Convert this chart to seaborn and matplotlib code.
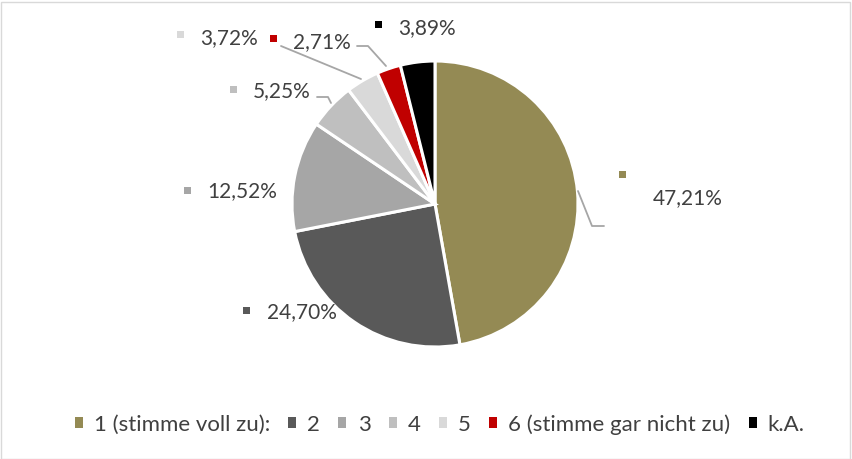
import matplotlib
matplotlib.use("Agg")
import matplotlib.pyplot as plt
import seaborn as sns
from matplotlib.patches import Patch, Rectangle

# --------------------------
# Data
# --------------------------

categories = ["1 (stimme voll zu):", "2", "3", "4", "5", "6 (stimme gar nicht zu)", "k.A."]
shares = [47.21, 24.70, 12.52, 5.25, 3.72, 2.71, 3.89]
colors = ["#948A54", "#595959", "#A6A6A6", "#BFBFBF", "#D9D9D9", "#C00000", "#000000"]

# label anchor (marker square) in pixels of the 852x460 canvas
label_px = [(622, 175), (246, 311), (187, 191), (233, 90), (180, 35), (273, 39), (378, 25)]
text_dx = [31, 21, 20, 20, 20, 20, 20]
text_dy = [23, 1, 0, 1, 3, 3, 3]

sns.set_theme(style="white")
plt.rcParams["font.family"] = ["Lato", "DejaVu Sans"]

W, H = 852, 460
CX, CY, R = 435, 205, 143

fig = plt.figure(figsize=(W / 100, H / 100), dpi=100)
ax = fig.add_axes([0, 0, 1, 1])


def px(x, y):
    return (x - CX) / R, (CY - y) / R


ax.pie(
    shares,
    colors=colors,
    startangle=90,
    counterclock=False,
    radius=1.0,
    wedgeprops=dict(edgecolor="white", linewidth=2.2),
)
ax.set_aspect("auto")
ax.set_xlim(-CX / R, (W - CX) / R)
ax.set_ylim((CY - H) / R, CY / R)
ax.axis("off")

# --------------------------
# Data labels
# --------------------------

txt_col = "#404040"
sq = 7 / R
for i, v in enumerate(shares):
    mx, my = px(*label_px[i])
    ax.add_patch(Rectangle((mx - sq / 2, my - sq / 2), sq, sq, color=colors[i], lw=0))
    tx, ty = px(label_px[i][0] + text_dx[i], label_px[i][1] + text_dy[i])
    ax.text(tx, ty, f"{v:.2f}".replace(".", ",") + "%", fontsize=15,
            color=txt_col, ha="left", va="center")

# leader lines
lead_col = "#A6A6A6"
leaders = [
    [(578, 192), (592, 227), (604, 227)],
    [(317, 98), (328, 98), (331, 104)],
    [(281, 47), (361, 80)],
    [(357, 47), (368, 47), (386, 67)],
]
for pts in leaders:
    xs, ys = zip(*[px(x, y) for x, y in pts])
    ax.plot(xs, ys, color=lead_col, lw=1.3)

# --------------------------
# Legend
# --------------------------

handles = [Patch(facecolor=c, edgecolor="none") for c in colors]
fig.legend(
    handles,
    categories,
    loc="center",
    bbox_to_anchor=(0.516, 1 - 425 / H),
    ncol=7,
    frameon=False,
    handlelength=0.36,
    handleheight=0.36,
    handletextpad=0.5,
    columnspacing=0.82,
    prop={"size": 16},
    labelcolor=txt_col,
)

# chart border
fig.add_artist(Rectangle((0.5 / W, 0.5 / H), 1 - 3 / W, 1 - 3 / H,
                         transform=fig.transFigure, fill=False,
                         edgecolor="#D9D9D9", lw=1))

fig.savefig("out.png", dpi=100)
